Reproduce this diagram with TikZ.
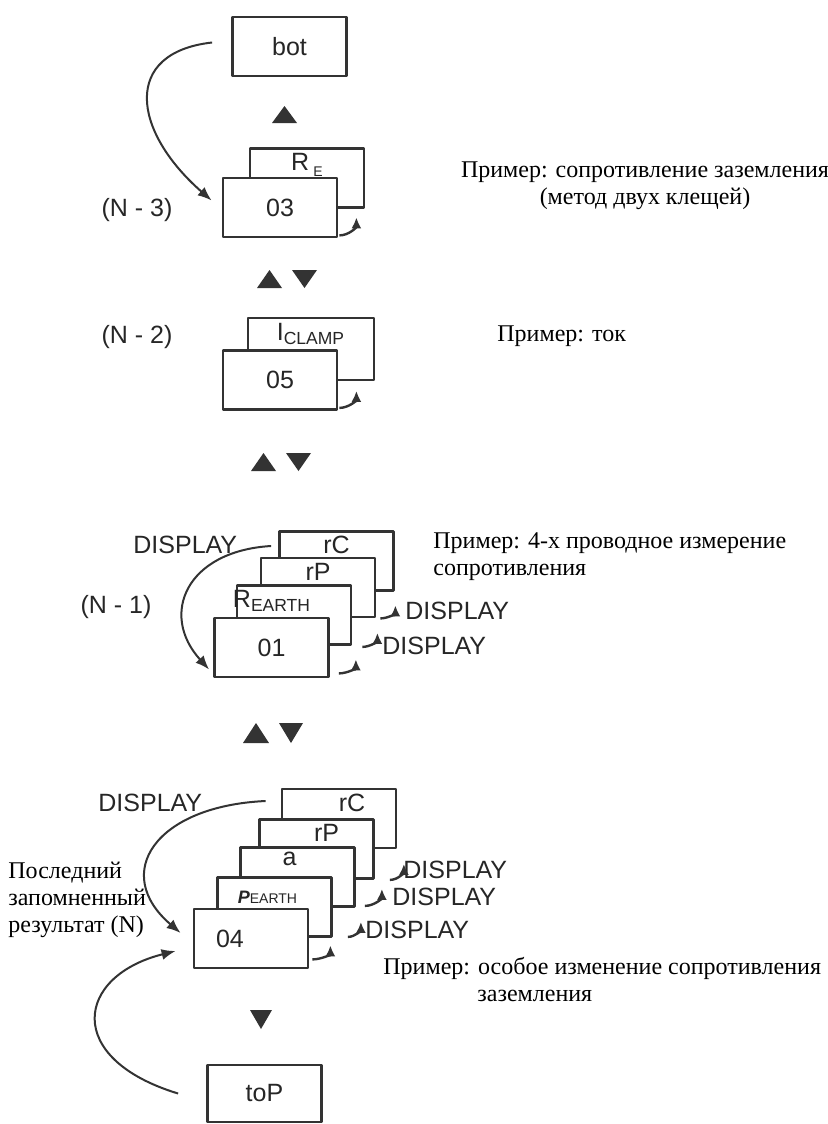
\documentclass[tikz,border=0pt]{standalone}
\usepackage{fontspec}
\setmainfont{Liberation Serif}
\setsansfont{Liberation Sans}
\usetikzlibrary{arrows.meta,calc}

\newcommand{\dispfont}{\sffamily\fontsize{12.5}{15}\selectfont}
\newcommand{\notefont}{\rmfamily\fontsize{12}{13.5}\selectfont}

\tikzset{
  panel/.style={draw=black!80,fill=white,line width=1.4pt,minimum width=57pt,minimum height=29.5pt,inner sep=0pt,font=\dispfont,text=black!85},
  back/.style={panel},
  front/.style={panel},
  lab/.style={anchor=north,inner sep=1pt,yshift=-2pt,font=\dispfont,text=black!85},
  tag/.style={font=\dispfont,text=black!85,inner sep=0pt},
  note/.style={font=\notefont,inner sep=0pt},
  jump/.style={draw=black!80,line width=1pt,->},
  hookarr/.style={draw=black!80,line width=1.2pt,-{Latex[length=5.5pt,width=5pt]}},
  tri/.style={fill=black!80},
}

\begin{document}
\begin{tikzpicture}[x=0.5pt,y=-0.5pt,>={Latex[length=7pt,width=5.5pt]},line join=bevel]
\useasboundingbox (0,0) rectangle (828,1124);
%%
  % (N - 3)
  \node (box_bot) at (289.5,46.5) [front] {bot};
  \fill[tri] (272,123) -- (297,123) -- (284.5,106) -- cycle;
  \node (box_RE) at (307,178) [back,label={[lab]north:R\,\raisebox{-3pt}{\scriptsize E}}] {};
  \node (box_03) at (280,207.5) [front] {03};
  \node (tag_n3) at (137,210) [tag] {(N - 3)};
  \node (note_n3) at (645,186) [note,align=center] {Пример: сопротивление заземления\\(метод двух клещей)};

  \draw [jump] ($(box_bot.west)+(-19,-4)$) .. controls +(-90,10) and +(-80,-70) .. ($(box_03.west)+(-10,-7)$);
  \draw [hookarr] ($(box_03.south east)+(1,-3)$) to[out=0,in=-90] ++(17,-18);

  % (N - 2)
  \fill[tri] (257,288) -- (282,288) -- (269.5,270) -- cycle;
  \fill[tri] (292,270) -- (317,270) -- (304.5,288) -- cycle;
  \node (box_Iclamp) at (311,349) [back,minimum width=63pt,minimum height=31pt,label={[lab]north:I\textsubscript{CLAMP}}] {};
  \node (box_05) at (280,380) [front] {05};
  \node (tag_n2) at (137,337) [tag] {(N - 2)};
  \node (note_n2) at (497,336) [note,anchor=west] {Пример: ток};

  \draw [hookarr] ($(box_05.south east)+(1,-3)$) to[out=0,in=-90] ++(17,-17);

  % (N - 1)
  \fill[tri] (251,471) -- (276,471) -- (263.5,453) -- cycle;
  \fill[tri] (286,453) -- (311,453) -- (298.5,471) -- cycle;
  \node (box_rC1) at (336.5,561) [back,label={[lab]north:rC}] {};
  \node (box_rP1) at (318,587.5) [back,label={[lab]north:rP}] {};
  \node (box_RE1) at (294,615) [back,label={[lab,xshift=-11pt]north:R\textsubscript{EARTH}}] {};
  \node (box_01) at (271.5,647.5) [front] {01};
  \node (tag_n1) at (116,607) [tag] {(N - 1)};
  \node (disp_n1) at (133,545) [tag,anchor=west] {DISPLAY};
  \node (disp_rP1) at (405,611) [tag,anchor=west] {DISPLAY};
  \node (disp_RE1) at (382,646) [tag,anchor=west] {DISPLAY};
  \node (note_n1) at (433,557) [note,anchor=west,align=left] {Пример: 4-х проводное измерение\\сопротивления};

  \draw [jump] ($(box_rC1.west)+(-7,-15)$) .. controls +(-85,5) and +(-50,-55) .. ($(box_01.west)+(-4,22)$);
  \draw [hookarr] ($(box_01.south east)+(9,-5)$) to[out=0,in=-90] ++(17,-14);
  \draw [hookarr] ($(box_RE1.south east)+(10,1)$) to[out=0,in=-90] ++(15,-14);
  \draw [hookarr] ($(box_rP1.south east)+(4,0)$) to[out=0,in=-90] ++(15,-13);

  % (N)
  \fill[tri] (243,743) -- (269,743) -- (256,723) -- cycle;
  \fill[tri] (279,723) -- (303,723) -- (291,743) -- cycle;
  \node (box_rC) at (339,818.5) [back,label={[lab,xshift=6.5pt]north:rC}] {};
  \node (box_rP) at (316.5,849) [back,label={[lab,xshift=5pt]north:rP}] {};
  \node (box_a) at (297.5,877) [back,label={[lab,xshift=-4pt]north:a}] {};
  \node (box_PE) at (274.5,907) [back,label={[lab,xshift=-3.5pt,yshift=-4.5pt]north:{{\bfseries\itshape\small P}\scriptsize EARTH}}] {};
  \node (box_04) at (251,938.5) [front,text width=35pt,inner xsep=11pt,align=left] {04};
  \node (tag_last) at (8,900) [note,anchor=west,align=left] {Последний\\запомненный\\результат (N)};
  \node (disp_n) at (98,803) [tag,anchor=west] {DISPLAY};
  \node (disp_rP) at (403,870) [tag,anchor=west] {DISPLAY};
  \node (disp_a) at (392,897) [tag,anchor=west] {DISPLAY};
  \node (disp_PE) at (365,930) [tag,anchor=west] {DISPLAY};
  \node (note_n) at (383,980) [note,anchor=west,align=left] {Пример: особое изменение сопротивления\\\hspace*{47pt}заземления};

  \draw [jump] ($(box_rC.west)+(-15,-17.5)$) .. controls +(-110,5) and +(-70,-60) .. ($(box_04.west)+(-12,-5.5)$);
  \draw [hookarr] ($(box_04.south east)+(3,-10)$) to[out=0,in=-90] ++(18,-14);
  \draw [hookarr] ($(box_PE.south east)+(15,-1)$) to[out=0,in=-90] ++(13,-15);
  \draw [hookarr] ($(box_a.south east)+(9,-2)$) to[out=0,in=-90] ++(17,-17);
  \draw [hookarr] ($(box_rP.south east)+(15,0)$) to[out=0,in=-90] ++(14,-16);

  % toP
  \fill[tri] (250,1010) -- (272,1010) -- (261,1029) -- cycle;
  \node (box_toP) at (264.5,1093.5) [front,minimum height=28.5pt] {toP};

  \draw [jump] ($(box_toP.west)+(-28,0)$) .. controls +(-115,-35) and +(-100,25) .. ($(box_04.west)+(-17,12.5)$);
%
\end{tikzpicture}
\end{document}
